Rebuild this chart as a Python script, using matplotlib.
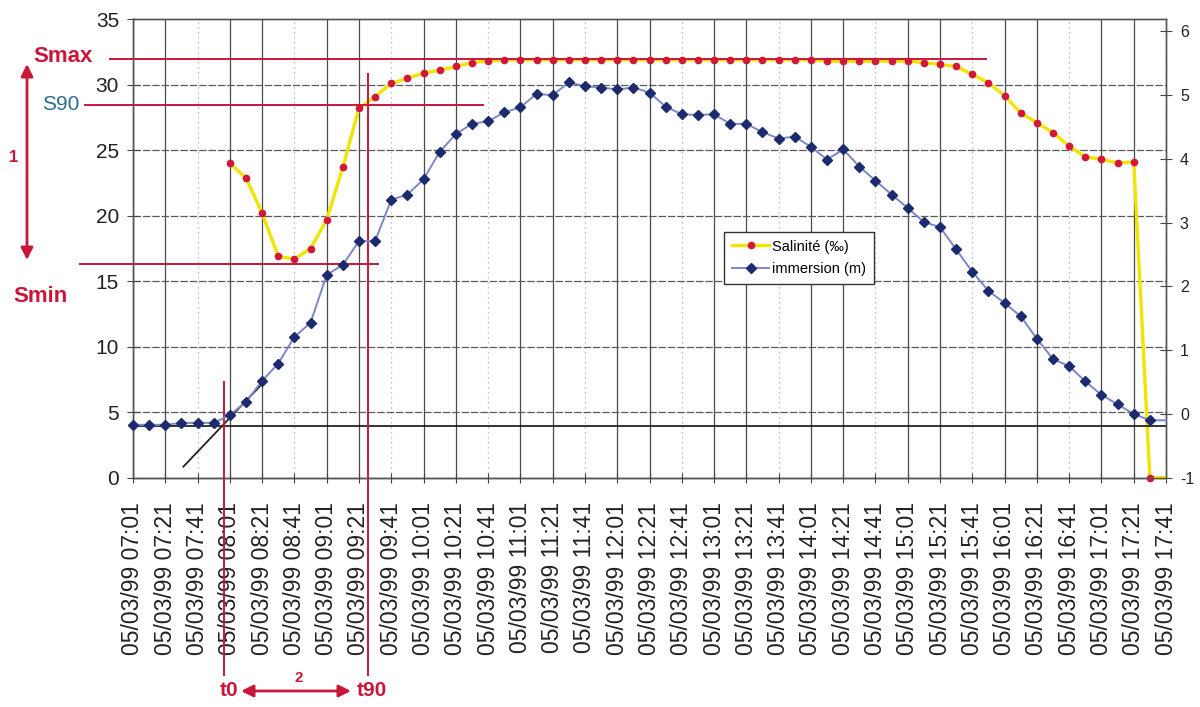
import matplotlib.pyplot as plt
from matplotlib.patches import FancyArrowPatch
import numpy as np
import pandas as pd

plt.rcParams.update({
    "font.family": ["Liberation Sans", "DejaVu Sans"],
    "font.size": 14,
    "axes.unicode_minus": False,
})

# 10-minute sampling, 05/03/99 07:01 -> 17:41
times = pd.date_range("1999-03-05 07:01", "1999-03-05 17:41", freq="10min")
labels = [t.strftime("05/03/99 %H:%M") for t in times]

nan = np.nan
salinite = [
    nan, nan, nan, nan, nan, nan,
    24.0, 22.9, 20.2, 16.9, 16.7, 17.5, 19.7, 23.7, 28.2, 29.1,
    30.1, 30.5, 30.9, 31.1, 31.4, 31.7, 31.8, 31.9, 31.9, 31.9,
    31.9, 31.9, 31.9, 31.9, 31.9, 31.9, 31.9, 31.9, 31.9, 31.9,
    31.9, 31.9, 31.9, 31.9, 31.9, 31.9, 31.9, 31.8, 31.8, 31.8,
    31.8, 31.8, 31.8, 31.7, 31.55, 31.4, 30.8, 30.15, 29.15, 27.85,
    27.1, 26.35, 25.3, 24.5, 24.3, 24.05, 24.1, 0.0, 0.0,
]
immersion = [
    -0.17, -0.17, -0.17, -0.14, -0.14, -0.14, -0.02, 0.19, 0.52, 0.79,
    1.21, 1.43, 2.18, 2.34, 2.71, 2.71, 3.36, 3.44, 3.68, 4.11,
    4.39, 4.55, 4.59, 4.73, 4.81, 5.02, 5.00, 5.20, 5.14, 5.12,
    5.09, 5.12, 5.04, 4.82, 4.70, 4.69, 4.70, 4.55, 4.55, 4.42,
    4.32, 4.35, 4.19, 3.99, 4.15, 3.88, 3.66, 3.44, 3.23, 3.01,
    2.93, 2.58, 2.23, 1.93, 1.74, 1.53, 1.18, 0.86, 0.75, 0.51,
    0.30, 0.15, 0.00, -0.10, -0.10,
]

# reference levels of the response-time construction (salinity scale)
s_max = 32.0
s_90 = 28.45
s_min = 16.3
baseline = 3.95

RED = "#c8173a"
x = np.arange(len(labels))
marked = list(range(len(x) - 1))  # last sample sits on the right edge, no marker

fig = plt.figure(figsize=(12, 7.07), dpi=100)
ax = fig.add_axes([0.1108, 0.3243, 0.8609, 0.6484])
ax2 = ax.twinx()

# grid: every third vertical line comes out faint/dotted
ax.set_axisbelow(True)
for i in range(0, len(x), 2):
    if (i - 4) % 6 == 0:
        ax.axvline(i, color="#aaaaaa", lw=0.9, ls=(0, (1, 3)), zorder=0)
    else:
        ax.axvline(i, color="#4a4a4a", lw=0.9, zorder=0)
for yv in range(5, 35, 5):
    ax.axhline(yv, color="#5a5a5a", lw=0.9, ls=(0, (6, 1.5)), zorder=0)

l1, = ax.plot(x, salinite, color="#f0e400", lw=2.4, marker="o", markersize=4.5,
              markerfacecolor="#d4163c", markeredgecolor="#d4163c", zorder=3,
              markevery=marked, clip_on=False, label="Salinité (‰)")
l2, = ax2.plot(x, immersion, color="#7c86c8", lw=1.4, marker="D", markersize=5,
               markerfacecolor="#1c2a6e", markeredgecolor="#1c2a6e", zorder=3,
               markevery=marked, clip_on=False, label="immersion (m)")

ax.set_xlim(0, len(x) - 1)
ax.set_ylim(0, 35)
ax2.set_ylim(-1, 6.19)
ax.set_yticks(range(0, 36, 5))
ax2.set_yticks(range(-1, 7))
ax.set_xticks(x[::2])
ax.set_xticklabels(labels[::2], rotation=90, fontsize=16.5, color="#222222")
ax.tick_params(axis="x", direction="inout", length=7, color="#444444", pad=14)
ax.tick_params(axis="y", direction="inout", length=8, labelsize=15,
               labelcolor="#222222", color="#444444", pad=6)
ax2.tick_params(axis="y", direction="inout", length=8, labelsize=11.5,
                labelcolor="#222222", color="#444444", pad=6)
for a in (ax, ax2):
    for s in a.spines.values():
        s.set_color("#555555")
        s.set_linewidth(1.0)
ax.spines["bottom"].set_color("#111111")

# red and black construction lines
ax.plot([-1.4, 52.85], [s_max, s_max], color=RED, lw=1.4, clip_on=False, zorder=4)
ax.plot([-2.97, 21.7], [s_90, s_90], color=RED, lw=1.4, clip_on=False, zorder=4)
ax.plot([-3.3, 15.16], [s_min, s_min], color=RED, lw=1.4, clip_on=False, zorder=4)
ax.plot([0, len(x) - 1], [baseline, baseline], color="#111111", lw=1.2, zorder=4)
ax.plot([3.12, 8.07], [0.84, 7.25], color="#222222", lw=1.3, zorder=4)

trans = ax.get_xaxis_transform()
ax.plot([5.67, 5.67], [0.209, -0.43], color=RED, lw=1.4, transform=trans,
        clip_on=False, zorder=4)
ax.plot([14.58, 14.58], [0.881, -0.43], color=RED, lw=1.4, transform=trans,
        clip_on=False, zorder=4)


def fx(px):
    return px / 1200


def fy(py):
    return 1 - py / 707


fig.text(fx(63), fy(56), "Smax", color=RED, fontsize=16, fontweight="bold",
         ha="center", va="center")
fig.text(fx(61), fy(105), "S90", color="#2d6d8f", fontsize=15,
         ha="center", va="center")
fig.text(fx(14), fy(157), "1", color=RED, fontsize=12, fontweight="bold",
         ha="center", va="center")
fig.text(fx(40), fy(297), "Smin", color=RED, fontsize=16, fontweight="bold",
         ha="center", va="center")
fig.text(fx(229), fy(691), "t0", color=RED, fontsize=15, fontweight="bold",
         ha="center", va="center")
fig.text(fx(372), fy(691), "t90", color=RED, fontsize=15, fontweight="bold",
         ha="center", va="center")
fig.text(fx(299), fy(678), "2", color=RED, fontsize=11, fontweight="bold",
         ha="center", va="center")

arrow = dict(arrowstyle="<|-|>", color=RED, lw=2, mutation_scale=18,
             shrinkA=0, shrinkB=0)
fig.patches.append(FancyArrowPatch(
    (fx(27), fy(64)), (fx(27), fy(260)), transform=fig.transFigure, **arrow))
fig.patches.append(FancyArrowPatch(
    (fx(241), fy(691)), (fx(351), fy(691)), transform=fig.transFigure, **arrow))

leg = ax2.legend(handles=[l1, l2], loc="upper left",
                 bbox_to_anchor=(fx(717), fy(225)), bbox_transform=fig.transFigure,
                 fontsize=10.5, frameon=True, fancybox=False, framealpha=1,
                 edgecolor="#333333", borderpad=0.5, handlelength=2.6,
                 handletextpad=0.2, labelspacing=0.6)
leg.get_frame().set_linewidth(1.0)

fig.savefig("out.png", dpi=100)
